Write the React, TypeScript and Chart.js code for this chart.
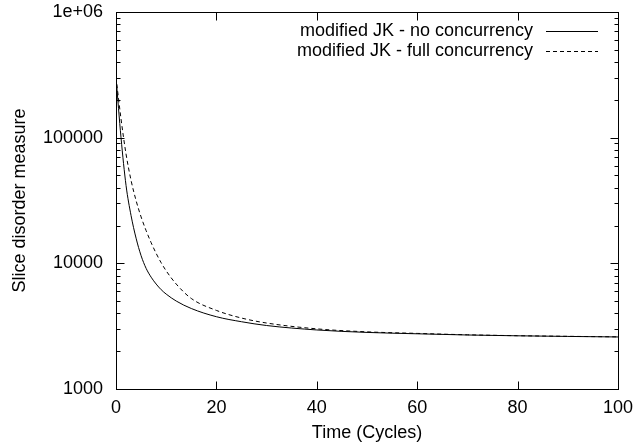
import React, { useEffect, useRef } from "react";
import { Chart, registerables } from "chart.js";

Chart.register(...registerables);

const timeCycles = [0, 1, 2, 3, 4, 5, 6, 7, 8, 9, 10, 12, 15, 20, 25, 30, 40, 50, 60, 70, 80, 90, 100];
const noConcurrency = [302000, 100000, 41700, 24000, 15850, 11500, 9120, 7760, 6840, 6170, 5690, 5010, 4370, 3760, 3430, 3200, 2950, 2820, 2750, 2690, 2650, 2620, 2595];
const fullConcurrency = [302000, 141000, 74100, 45700, 31600, 23400, 18200, 14600, 12000, 10100, 8710, 6840, 5250, 4220, 3670, 3350, 3010, 2850, 2770, 2700, 2655, 2625, 2600];

const seriesLabels = ["modified JK - no concurrency", "modified JK - full concurrency"];
const xTickValues = [0, 20, 40, 60, 80, 100];
const yTickValues = [1000, 10000, 100000, 1000000];
const yTickLabels = ["1000", "10000", "100000", "1e+06"];
const xTitle = "Time (Cycles)";
const yTitle = "Slice disorder measure";

const FONT = "'Liberation Sans', Arial, Helvetica, sans-serif";

const framePlugin = {
  id: "gnuplotFrame",
  afterDatasetsDraw(chart: any) {
    const { ctx, chartArea, scales } = chart;
    const { left, right, top, bottom } = chartArea;
    const x = scales.x;
    const y = scales.y;
    ctx.save();
    ctx.strokeStyle = "#000";
    ctx.lineWidth = 1;
    const line = (x1: number, y1: number, x2: number, y2: number) => {
      ctx.beginPath();
      ctx.moveTo(x1, y1);
      ctx.lineTo(x2, y2);
      ctx.stroke();
    };
    const L = Math.round(left) + 0.5;
    const R = Math.round(right) + 0.5;
    const T = Math.round(top) + 0.5;
    const B = Math.round(bottom) + 0.5;
    ctx.strokeRect(L, T, R - L, B - T);
    for (const v of xTickValues) {
      const px = Math.round(x.getPixelForValue(v)) + 0.5;
      line(px, B, px, B - 8);
      line(px, T, px, T + 8);
    }
    for (const v of yTickValues) {
      const py = Math.round(y.getPixelForValue(v)) + 0.5;
      line(L, py, L + 8, py);
      line(R, py, R - 8, py);
    }
    for (let i = 0; i < yTickValues.length - 1; i++) {
      for (let m = 2; m <= 9; m++) {
        const py = Math.round(y.getPixelForValue(yTickValues[i] * m)) + 0.5;
        line(L, py, L + 4, py);
        line(R, py, R - 4, py);
      }
    }
    // legend
    ctx.font = `18px ${FONT}`;
    ctx.fillStyle = "#000";
    ctx.textAlign = "right";
    ctx.textBaseline = "middle";
    const rows = [31, 51];
    chart.data.datasets.forEach((ds: any, i: number) => {
      const ry = rows[i];
      ctx.fillText(ds.label, 533, ry);
      ctx.setLineDash(ds.borderDash || []);
      line(546, ry + 0.5, 598, ry + 0.5);
      ctx.setLineDash([]);
    });
    ctx.restore();
  },
};

export default function App() {
  const canvasRef = useRef<HTMLCanvasElement | null>(null);

  useEffect(() => {
    const canvas = canvasRef.current;
    if (!canvas) return;
    const chart = new Chart(canvas, {
      type: "line",
      data: {
        datasets: [
          {
            label: seriesLabels[0],
            data: timeCycles.map((t, i) => ({ x: t, y: noConcurrency[i] })),
            borderColor: "#000",
            borderWidth: 1,
            pointRadius: 0,
            cubicInterpolationMode: "monotone",
            fill: false,
          },
          {
            label: seriesLabels[1],
            data: timeCycles.map((t, i) => ({ x: t, y: fullConcurrency[i] })),
            borderColor: "#000",
            borderWidth: 1,
            borderDash: [4, 3],
            pointRadius: 0,
            cubicInterpolationMode: "monotone",
            fill: false,
          },
        ],
      },
      options: {
        responsive: false,
        animation: false,
        layout: { padding: { left: 0, top: 12, right: 23, bottom: 0 } },
        plugins: { legend: { display: false }, tooltip: { enabled: false } },
        scales: {
          x: {
            type: "linear",
            min: 0,
            max: 100,
            grid: { display: false, drawTicks: false },
            border: { display: false },
            afterBuildTicks: (s: any) => {
              s.ticks = xTickValues.map((v) => ({ value: v }));
            },
            afterFit: (s: any) => {
              s.height = 58;
              s.paddingLeft = 0;
              s.paddingRight = 0;
            },
            ticks: {
              color: "#000",
              font: { family: FONT, size: 18 },
              padding: 8,
              maxRotation: 0,
              callback: (v: any) => String(v),
            },
            title: {
              display: true,
              text: xTitle,
              color: "#000",
              font: { family: FONT, size: 18 },
              padding: { top: 0, bottom: 3 },
            },
          },
          y: {
            type: "logarithmic",
            min: 1000,
            max: 1000000,
            grid: { display: false, drawTicks: false },
            border: { display: false },
            afterBuildTicks: (s: any) => {
              s.ticks = yTickValues.map((v) => ({ value: v }));
            },
            afterFit: (s: any) => {
              s.width = 116;
              s.paddingTop = 0;
              s.paddingBottom = 0;
            },
            ticks: {
              color: "#000",
              font: { family: FONT, size: 18 },
              padding: 13,
              autoSkip: false,
              callback: (v: any) => {
                const i = yTickValues.indexOf(Number(v));
                return i >= 0 ? yTickLabels[i] : "";
              },
            },
            title: {
              display: true,
              text: yTitle,
              color: "#000",
              font: { family: FONT, size: 18 },
              padding: { top: 9, bottom: 0 },
            },
          },
        },
      },
      plugins: [framePlugin],
    });
    return () => chart.destroy();
  }, []);

  return (
    <div style={{ position: "fixed", left: 0, top: 0, width: 641, height: 447, background: "#fff" }}>
      <canvas ref={canvasRef} width={641} height={447} style={{ width: 641, height: 447 }} />
    </div>
  );
}
